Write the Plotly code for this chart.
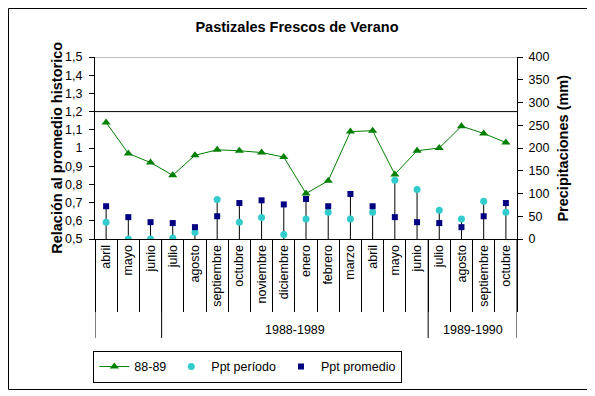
import plotly.graph_objects as go

# ---- data ----
months = ["abril", "mayo", "junio", "julio", "agosto", "septiembre", "octubre",
          "noviembre", "diciembre", "enero", "febrero", "marzo", "abril", "mayo",
          "junio", "julio", "agosto", "septiembre", "octubre"]
group_labels = ["", "1988-1989", "1989-1990"]
group_sizes = [3, 12, 4]

rel_88_89 = [1.14, 0.97, 0.92, 0.85, 0.96, 0.99, 0.985, 0.975, 0.95, 0.75,
             0.82, 1.09, 1.095, 0.855, 0.985, 1.0, 1.12, 1.08, 1.03]
ppt_periodo = [37, 0, 0, 2, 15, 87, 37, 47, 10, 44, 59, 44, 59, 129, 109,
               63, 44, 83, 59]
ppt_promedio = [72, 48, 37, 35, 26, 50, 79, 85, 76, 88, 72, 99, 72, 48, 37,
                35, 26, 50, 79]

left_ticks = [0.5, 0.6, 0.7, 0.8, 0.9, 1.0, 1.1, 1.2, 1.3, 1.4, 1.5]
left_labels = ["0,5", "0,6", "0,7", "0,8", "0,9", "1", "1,1", "1,2", "1,3", "1,4", "1,5"]
right_ticks = [0, 50, 100, 150, 200, 250, 300, 350, 400]
ref_level = 1.2

FONT = "Liberation Sans, Arial, sans-serif"
OFF = 8  # page body margin of the html page
W, H = 595 - OFF, 396 - OFF
PL, PT, PW, PH = 95 - OFF, 57 - OFF, 422, 182  # plot area in figure px
x = list(range(len(months)))


def px_to_paper_x(px):
    return (px - PL) / PW


def px_to_paper_y(py):
    return (PT + PH - py) / PH


fig = go.Figure()

# drop lines from 0 to the higher precipitation marker
dx, dy = [], []
for i, (a, b) in enumerate(zip(ppt_periodo, ppt_promedio)):
    dx += [i, i, None]
    dy += [0, max(a, b), None]
fig.add_trace(go.Scatter(x=dx, y=dy, yaxis="y2", mode="lines",
                         line=dict(color="black", width=1),
                         showlegend=False, hoverinfo="skip"))

fig.add_trace(go.Scatter(x=x, y=rel_88_89, name="88-89", mode="lines+markers",
                         line=dict(color="#008000", width=1),
                         marker=dict(symbol="triangle-up", size=8, color="#008000")))
fig.add_trace(go.Scatter(x=x, y=ppt_periodo, name="Ppt período", mode="markers",
                         yaxis="y2",
                         marker=dict(symbol="circle", size=7, color="#33CCCC")))
fig.add_trace(go.Scatter(x=x, y=ppt_promedio, name="Ppt promedio", mode="markers",
                         yaxis="y2",
                         marker=dict(symbol="square", size=6, color="#000080")))

shapes = []
shapes.append(dict(type="line", xref="paper", yref="y", x0=0, x1=1, y0=1.5, y1=1.5,
                   line=dict(color="#808080", width=1)))
shapes.append(dict(type="line", xref="paper", yref="y", x0=0, x1=1,
                   y0=ref_level, y1=ref_level, line=dict(color="black", width=1)))
bounds = [-0.5]
for s in group_sizes:
    bounds.append(bounds[-1] + s)
for b in bounds:
    shapes.append(dict(type="line", xref="x", yref="paper", x0=b, x1=b,
                       y0=0, y1=-0.544, line=dict(color="black", width=1)))
# outer border (figure-pixel positions converted to paper units)
shapes.append(dict(type="rect", xref="paper", yref="paper",
                   x0=px_to_paper_x(0.5), x1=px_to_paper_x(580.5),
                   y0=px_to_paper_y(381.5), y1=px_to_paper_y(0.5),
                   line=dict(color="black", width=1)))

annotations = []
for lab, b0, b1 in zip(group_labels, bounds[:-1], bounds[1:]):
    if lab:
        annotations.append(dict(text=lab, xref="x", yref="paper", x=(b0 + b1) / 2,
                                y=-0.5, showarrow=False, xanchor="center",
                                yanchor="middle", font=dict(size=12.5, color="black")))
annotations.append(dict(text="<b>Relación al promedio historico</b>", xref="paper",
                        yref="paper", x=-0.0905, y=0.5, textangle=-90, showarrow=False,
                        xanchor="center", yanchor="middle",
                        font=dict(size=14.5, color="black")))
annotations.append(dict(text="<b>Precipitaciones (mm)</b>", xref="paper",
                        yref="paper", x=1.108, y=0.5, textangle=-90, showarrow=False,
                        xanchor="center", yanchor="middle",
                        font=dict(size=14.5, color="black")))

fig.update_layout(
    width=W, height=H,
    margin=dict(l=PL, r=W - PL - PW, t=PT, b=H - PT - PH),
    paper_bgcolor="white", plot_bgcolor="white",
    font=dict(family=FONT, size=12.5, color="black"),
    title=dict(text="<b>Pastizales Frescos de Verano</b>", x=(297 - OFF) / W,
               xanchor="center", y=1 - (26.7 - OFF) / H, yanchor="middle",
               font=dict(size=14.5)),
    xaxis=dict(range=[-0.5, len(months) - 0.5], tickvals=x, ticktext=months,
               tickangle=-90, ticks="", showgrid=False, zeroline=False,
               showline=True, linecolor="black", linewidth=1,
               minor=dict(ticks="outside", ticklen=72, tick0=-0.5, dtick=1,
                          tickcolor="black", tickwidth=1, showgrid=False)),
    yaxis=dict(range=[0.5, 1.5], tickvals=left_ticks, ticktext=left_labels,
               ticks="outside", ticklen=5, tickcolor="black", showgrid=False,
               zeroline=False, showline=True, linecolor="black", linewidth=1,
               ticklabelstandoff=4),
    yaxis2=dict(range=[0, 400], tickvals=right_ticks, overlaying="y", side="right",
                ticks="outside", ticklen=5, tickcolor="black", showgrid=False,
                zeroline=False, showline=True, linecolor="black", linewidth=1,
                ticklabelstandoff=3),
    legend=dict(orientation="h", x=-0.004, y=-0.615, xanchor="left", yanchor="top",
                bordercolor="black", borderwidth=1, bgcolor="white",
                font=dict(size=12.5), itemclick=False, tracegroupgap=0),
    shapes=shapes, annotations=annotations,
    showlegend=True,
)

fig.write_html("out.html")
